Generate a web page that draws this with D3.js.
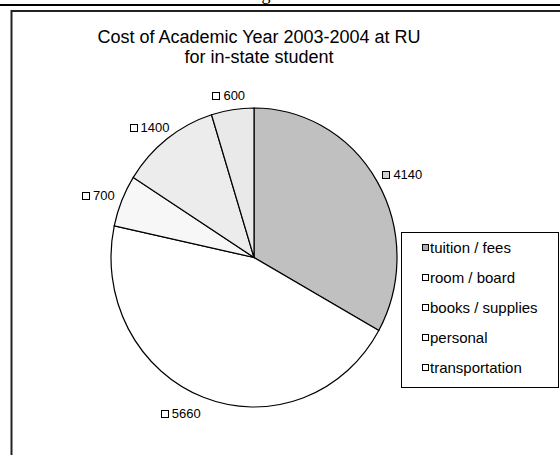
<!DOCTYPE html>
<html><head><meta charset="utf-8">
<script src="https://cdn.jsdelivr.net/npm/d3@7"></script>
<style>body{margin:0;background:#fff}svg{display:block}</style>
</head><body>
<script>
const categories = ["tuition / fees","room / board","books / supplies","personal","transportation"];
const values = [4140, 5660, 700, 1400, 600];
const title = ["Cost of Academic Year 2003-2004 at RU", "for in-state student"];
const fills = ["#c0c0c0", "#ffffff", "#f7f7f7", "#ececec", "url(#stripes)"];
const legendFills = ["#b0b0b0", "#ffffff", "#ffffff", "#ffffff", "#ffffff"];

const W = 560, H = 455;
const svg = d3.select("body").append("svg").attr("width", W).attr("height", H);
const defs = svg.append("defs");
const pat = defs.append("pattern").attr("id","stripes").attr("patternUnits","userSpaceOnUse")
  .attr("width",4).attr("height",2);
pat.append("rect").attr("width",4).attr("height",2).attr("fill","#f2f2f2");
pat.append("rect").attr("width",4).attr("height",1).attr("fill","#e0e0e0");

// page elements
svg.append("text").attr("x",266).attr("y",0).attr("text-anchor","middle")
  .attr("font-family","Liberation Serif").attr("font-size",18).text("g");
svg.append("line").attr("x1",0).attr("x2",W).attr("y1",5).attr("y2",5).attr("stroke","#000").attr("stroke-width",2);
svg.append("path").attr("d",`M${W+2},11H11.5V${H+2}`).attr("fill","none").attr("stroke","#222").attr("stroke-width",2);

// title
svg.append("g").selectAll("text").data(title).join("text")
  .attr("x",259).attr("y",(d,i)=>43+i*20).attr("text-anchor","middle")
  .attr("font-family","Liberation Sans, Arial").attr("font-size",18).attr("fill","#000").text(d=>d);

// pie
const cx = 254, cy = 257.5, ry = 149.5, rx = 143;
const pie = d3.pie().sort(null).value(d=>d);
const arcs = pie(values);
const arc = d3.arc().innerRadius(0).outerRadius(ry);
const pg = svg.append("g").attr("transform",`translate(${cx},${cy}) scale(${rx/ry},1)`);
pg.selectAll("path").data(arcs).join("path")
  .attr("d",arc).attr("fill",(d,i)=>fills[i])
  .attr("stroke","#000").attr("stroke-width",1.2).attr("vector-effect","non-scaling-stroke");

// labels
const lf = 13;
const lg = svg.append("g").attr("font-family","Liberation Sans, Arial").attr("font-size",lf);
arcs.forEach((d,i)=>{
  const a = (d.startAngle+d.endAngle)/2;
  const s = Math.sin(a), c = -Math.cos(a);
  const txt = String(values[i]);
  const w = 11 + txt.length*7.2, h = 11, gap = 9;
  const k = c > 0.5 ? 0.5 + 0.5*Math.abs(c) : 0;   // lower labels sit further out
  const px = cx + s*(rx+gap) + (s*(1-k) + Math.sign(s)*k)*w/2;
  const py = cy + c*(ry+gap) + c*h/2 + k*3;
  const x0 = px - w/2;
  lg.append("rect").attr("x",Math.round(x0)+0.5).attr("y",Math.round(py-3.5)+0.5).attr("width",7).attr("height",7)
    .attr("fill",i===0?"#d0d0d0":"#fff").attr("stroke","#000").attr("stroke-width",1);
  lg.append("text").attr("x",x0+11).attr("y",py+4.5).text(txt);
});

// legend
const leg = svg.append("g");
leg.append("rect").attr("x",401.5).attr("y",232.5).attr("width",157).attr("height",155)
  .attr("fill","#fff").attr("stroke","#000").attr("stroke-width",1);
const yL = d3.scalePoint().domain(categories).range([248,368]);
const items = leg.selectAll("g").data(categories).join("g")
  .attr("transform",d=>`translate(0,${yL(d)})`);
items.append("rect").attr("x",422.5).attr("y",-3.5).attr("width",6).attr("height",6)
  .attr("fill",(d,i)=>legendFills[i]).attr("stroke","#000").attr("stroke-width",1);
items.append("text").attr("x",430).attr("y",5).attr("font-family","Liberation Sans, Arial")
  .attr("font-size",15).text(d=>d);
</script>
</body></html>
